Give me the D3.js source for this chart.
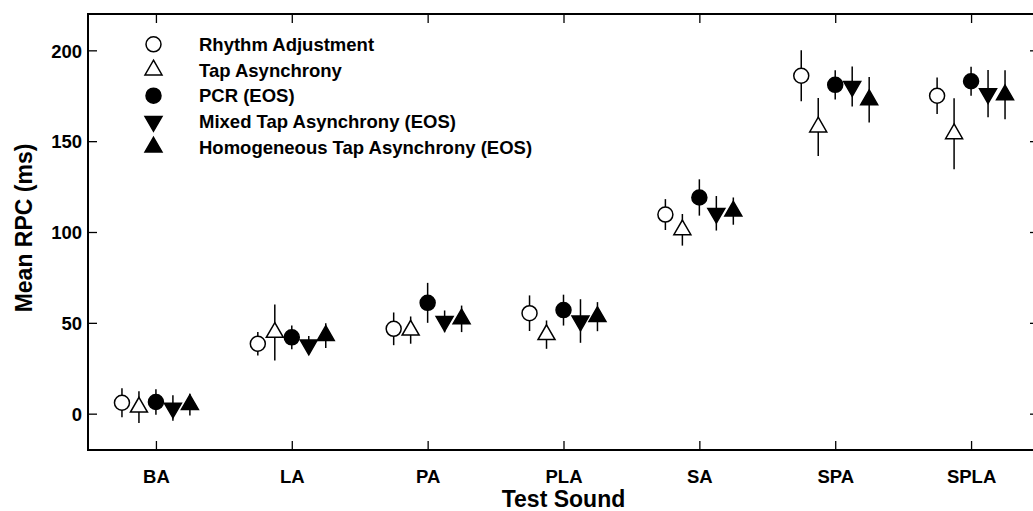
<!DOCTYPE html>
<html>
<head>
<meta charset="utf-8">
<script src="https://cdn.jsdelivr.net/npm/d3@7"></script>
<style>
  html, body { margin: 0; padding: 0; background: #fff; overflow: hidden; }
  svg { display: block; font-family: "Liberation Sans", Arial, sans-serif; }
</style>
</head>
<body>
<svg id="chart" width="1033" height="511"></svg>
<script>
// ---- data ----
const categories = ["BA", "LA", "PA", "PLA", "SA", "SPA", "SPLA"];
const yTicks = [0, 50, 100, 150, 200];

const seriesNames = [
  "Rhythm Adjustment",
  "Tap Asynchrony",
  "PCR (EOS)",
  "Mixed Tap Asynchrony (EOS)",
  "Homogeneous Tap Asynchrony (EOS)"
];
const seriesShapes = ["circle", "triangleUp", "circle", "triangleDown", "triangleUp"];
const seriesFilled = [false, false, true, true, true];

const rhythmMean = [6, 38.5, 46.7, 55.3, 109.6, 186, 175];
const rhythmErr  = [8, 6.5, 9, 9.8, 8.5, 14, 10];
const tapMean    = [3.6, 44.7, 46, 43.5, 101.2, 157.8, 154.1];
const tapErr     = [8.7, 15.4, 7.5, 7.8, 8.7, 16, 19.5];
const pcrMean    = [6.4, 42, 61, 57, 119, 181, 183];
const pcrErr     = [7, 6.5, 11, 8.5, 10, 8, 8];
const mixedMean  = [3.1, 37.8, 50.8, 51, 110.3, 180.1, 176.2];
const mixedErr   = [7, 5, 6, 12, 9.5, 11, 13];
const homogMean  = [5, 43, 52.2, 53.4, 111.5, 172.8, 175.5];
const homogErr   = [6, 6.8, 7.3, 8, 7.5, 12.5, 13.5];

const means = [rhythmMean, tapMean, pcrMean, mixedMean, homogMean];
const errs  = [rhythmErr, tapErr, pcrErr, mixedErr, homogErr];
const offsets = [-0.25, -0.125, 0, 0.125, 0.25];

// ---- layout ----
const svg = d3.select("#chart");
const mLeft = 88, mRight = 1039, mTop = 14, mBottom = 450;

const x = d3.scaleLinear().domain([-0.5, categories.length - 0.5]).range([mLeft, mRight]);
const y = d3.scaleLinear().domain([-20, 220]).range([mBottom, mTop]);

const tickLen = 9;
const labelFont = "18.5px";

// frame
svg.append("rect")
  .attr("x", mLeft).attr("y", mTop)
  .attr("width", mRight - mLeft).attr("height", mBottom - mTop)
  .attr("fill", "none").attr("stroke", "#000").attr("stroke-width", 2);

// axes (inward ticks)
const catIdx = categories.map((d, i) => i);
const xBottom = d3.axisBottom(x).tickValues(catIdx).tickSize(-tickLen).tickFormat(i => categories[i]).tickPadding(20);
const xTop = d3.axisTop(x).tickValues(catIdx).tickSize(-tickLen).tickFormat("");
const yLeft = d3.axisLeft(y).tickValues(yTicks).tickSize(-tickLen).tickPadding(6);
const yRight = d3.axisRight(y).tickValues(yTicks).tickSize(-tickLen).tickFormat("");

function styleAxis(g) {
  g.select(".domain").remove();
  g.selectAll(".tick line").attr("stroke", "#000").attr("stroke-width", 1.3);
  g.selectAll(".tick text")
    .attr("fill", "#000")
    .style("font-size", labelFont)
    .style("font-weight", "bold")
    .style("font-family", "'Liberation Sans', Arial, sans-serif");
}

svg.append("g").attr("transform", `translate(0,${mBottom})`).call(xBottom).call(styleAxis);
svg.append("g").attr("transform", `translate(0,${mTop})`).call(xTop).call(styleAxis);
svg.append("g").attr("transform", `translate(${mLeft},0)`).call(yLeft).call(styleAxis)
  .selectAll(".tick text").attr("dy", "0.36em");
svg.append("g").attr("transform", `translate(${mRight},0)`).call(yRight).call(styleAxis);

// axis titles
svg.append("text")
  .attr("x", (mLeft + mRight) / 2).attr("y", 506.5)
  .attr("text-anchor", "middle")
  .style("font-size", "23px").style("font-weight", "bold")
  .text("Test Sound");

svg.append("text")
  .attr("transform", `translate(32,${(mTop + mBottom) / 2 - 4}) rotate(-90)`)
  .attr("text-anchor", "middle")
  .style("font-size", "23px").style("font-weight", "bold")
  .text("Mean RPC (ms)");

// ---- markers ----
const R = 7.5;
const side = 17;
const H = side * Math.sqrt(3) / 2;

function shapePath(shape) {
  if (shape === "triangleUp") {
    return `M0,${-2 * H / 3}L${side / 2},${H / 3}L${-side / 2},${H / 3}Z`;
  } else if (shape === "triangleDown") {
    return `M0,${2 * H / 3}L${side / 2},${-H / 3}L${-side / 2},${-H / 3}Z`;
  }
  return null;
}

function drawMarker(g, shape, filled, cx, cy) {
  const fill = filled ? "#000" : "#fff";
  if (shape === "circle") {
    g.append("circle").attr("cx", cx).attr("cy", cy).attr("r", R)
      .attr("fill", fill).attr("stroke", "#000").attr("stroke-width", 1.5);
  } else {
    g.append("path").attr("d", shapePath(shape))
      .attr("transform", `translate(${cx},${cy})`)
      .attr("fill", fill).attr("stroke", "#000").attr("stroke-width", 1.5)
      .attr("stroke-linejoin", "miter");
  }
}

const plot = svg.append("g");
seriesNames.forEach((name, s) => {
  const g = plot.append("g");
  categories.forEach((c, i) => {
    const cx = x(i + offsets[s]);
    const m = means[s][i], e = errs[s][i];
    g.append("line")
      .attr("x1", cx).attr("x2", cx)
      .attr("y1", y(m - e)).attr("y2", y(m + e))
      .attr("stroke", "#000").attr("stroke-width", 1.5);
    drawMarker(g, seriesShapes[s], seriesFilled[s], cx, y(m));
  });
});

// ---- legend ----
const legend = svg.append("g");
const legX = 153.5, legTextX = 199, legY0 = 44.3, legDy = 25.7;
seriesNames.forEach((name, s) => {
  const cy = legY0 + s * legDy;
  drawMarker(legend, seriesShapes[s], seriesFilled[s], legX, cy);
  legend.append("text")
    .attr("x", legTextX).attr("y", cy).attr("dy", "0.36em")
    .style("font-size", labelFont).style("font-weight", "bold")
    .text(name);
});
</script>
</body>
</html>
